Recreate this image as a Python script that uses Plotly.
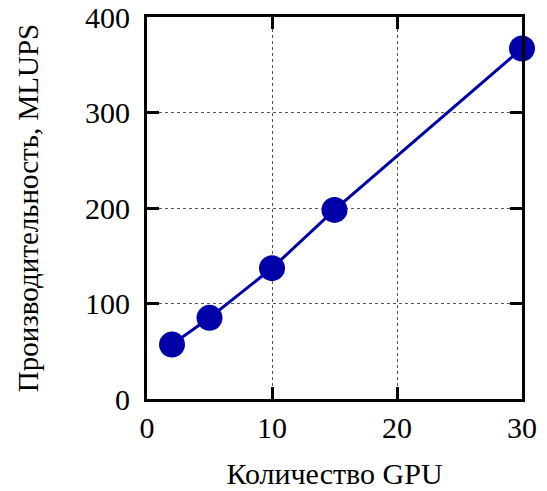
import plotly.graph_objects as go

gpus = [2, 5, 10, 15, 30]
mlups = [57, 85, 137, 198, 367]

x_ticks = [0, 10, 20, 30]
y_ticks = [0, 100, 200, 300, 400]

color = "#0000a8"
font = "Liberation Serif, Times New Roman, serif"

fig = go.Figure()
fig.add_trace(go.Scatter(
    x=gpus, y=mlups, mode="lines+markers",
    line=dict(color=color, width=3),
    marker=dict(color=color, size=26),
    cliponaxis=False, showlegend=False,
))

axis_common = dict(
    showline=True, linecolor="black", linewidth=3, mirror="ticks",
    ticks="inside", ticklen=12, tickwidth=3, tickcolor="black",
    showgrid=True, gridcolor="#555555", gridwidth=1, griddash="dot",
    zeroline=False,
    tickfont=dict(family=font, size=30, color="black"),
)

fig.update_xaxes(range=[0, 30], tickvals=x_ticks,
                 title=dict(text="Количество GPU", font=dict(family=font, size=30, color="black"), standoff=20),
                 **axis_common)
fig.update_yaxes(range=[0, 400], tickvals=y_ticks, ticklabelstandoff=8,
                 title=dict(text="Производительность, MLUPS", font=dict(family=font, size=29, color="black"), standoff=38),
                 **axis_common)

fig.update_layout(
    width=547, height=491,
    margin=dict(l=147, r=25, t=17, b=92, autoexpand=False),
    plot_bgcolor="white", paper_bgcolor="white",
    font=dict(family=font),
)

fig.write_html("out.html", config={"displayModeBar": False},
               post_script="document.body.style.margin='0';")
